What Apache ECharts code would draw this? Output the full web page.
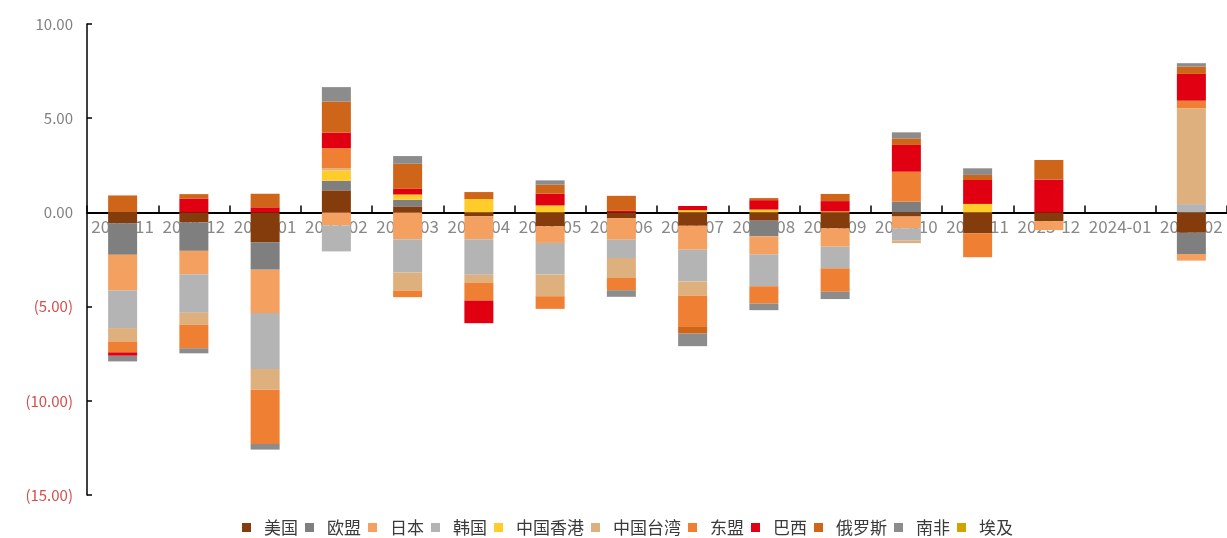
<!DOCTYPE html>
<html>
<head>
<meta charset="utf-8">
<script src="https://cdn.jsdelivr.net/npm/echarts@6/dist/echarts.min.js"></script>
<style>
  html, body { margin: 0; padding: 0; background: #fff; }
  #chart { width: 1227px; height: 538px; }
</style>
</head>
<body>
<div id="chart"></div>
<script>
// Months on the category axis
const categories = ['2022-11', '2022-12', '2023-01', '2023-02', '2023-03', '2023-04', '2023-05', '2023-06',
  '2023-07', '2023-08', '2023-09', '2023-10', '2023-11', '2023-12', '2024-01', '2024-02'];

// Contribution of each partner, one value per month (2024-01 has no data)
const usa    = [-0.57, -0.53, -1.58,  1.17,  0.32, -0.21, -0.74, -0.30, -0.71, -0.44, -0.85, -0.22, -1.11, -0.46, null, -1.08];
const eu     = [-1.68, -1.51, -1.46,  0.51,  0.35,  0,     0,     0,     0,    -0.83,  0,     0.57,  0,     0,    null, -1.13];
const japan  = [-1.89, -1.24, -2.30, -0.69, -1.42, -1.21, -0.88, -1.15, -1.27, -0.97, -0.97, -0.62,  0,    -0.48, null, -0.35];
const korea  = [-2.00, -2.04, -2.97, -1.38, -1.77, -1.89, -1.68, -0.97, -1.68, -1.68, -1.15, -0.65,  0,     0,    null,  0.44];
const hk     = [ 0,     0,     0,     0.55,  0.28,  0.71,  0.37,  0,     0.12,  0.15,  0.05,  0,     0.45,  0,    null,  0];
const tw     = [-0.71, -0.65, -1.10,  0.12, -0.96, -0.41, -1.15, -1.06, -0.76,  0,     0,    -0.14,  0,     0,    null,  5.08];
const asean  = [-0.58, -1.24, -2.88,  1.06, -0.35, -0.96, -0.67, -0.65, -1.66, -0.92, -1.24,  1.59, -1.27,  0,    null,  0.41];
const brazil = [-0.18,  0.74,  0.27,  0.83,  0.30, -1.20,  0.62,  0.08,  0.22,  0.50,  0.55,  1.42,  1.27,  1.75, null,  1.42];
const russia = [ 0.90,  0.23,  0.72,  1.65,  1.33,  0.37,  0.48,  0.80, -0.35,  0.11,  0.38,  0.35,  0.27,  1.03, null,  0.39];
const safr   = [-0.30, -0.27, -0.30,  0.76,  0.41,  0,     0.23, -0.35, -0.67, -0.35, -0.39,  0.32,  0.35,  0,    null,  0.18];
const egypt  = [ 0,     0,     0,     0,     0,     0,     0,     0,     0,     0,     0,     0,     0,     0,    null,  0];

const seriesNames  = ['美国', '欧盟', '日本', '韩国', '中国香港', '中国台湾', '东盟', '巴西', '俄罗斯', '南非', '埃及'];
const seriesData   = [usa, eu, japan, korea, hk, tw, asean, brazil, russia, safr, egypt];
const seriesColors = ['#843C0C', '#7F7F7F', '#F4A060', '#B4B4B4', '#FFCC2A', '#DDB07E',
  '#EE7F33', '#E00012', '#CF6518', '#8C8C8C', '#D0A300'];

// Value axis range and labels
const yMin = -15, yMax = 10, yStep = 5;

// Plot box; both month axes are moved from the grid edges onto the zero line
const gridTop = 24, gridHeight = 471;
const bottomToZero = -gridHeight * (0 - yMin) / (yMax - yMin);
const topToZero = -gridHeight * (yMax - 0) / (yMax - yMin);

const chart = echarts.init(document.getElementById('chart'));

const series = seriesNames.map((name, i) => ({
  name: name,
  type: 'bar',
  stack: 'total',
  barWidth: 29,
  data: seriesData[i],
  itemStyle: { color: seriesColors[i] },
  emphasis: { disabled: true }
}));

const tickStyle = { color: '#000', width: 1.5 };

chart.setOption({
  animation: false,
  backgroundColor: '#fff',
  color: seriesColors,
  grid: { left: 87, top: gridTop, width: 1144, height: gridHeight, containLabel: false },
  legend: {
    left: 237,
    top: 514,
    icon: 'rect',
    itemWidth: 9,
    itemHeight: 9,
    itemGap: 7,
    selectedMode: false,
    formatter: '{n|{name}}',
    textStyle: {
      color: '#3a3a3a',
      fontSize: 17,
      fontFamily: 'Noto Sans CJK SC',
      rich: { n: { fontSize: 17, color: '#3a3a3a', fontFamily: 'Noto Sans CJK SC', padding: [0, 0, 0, 8] } }
    }
  },
  xAxis: [
    {
      // month labels and the zero line
      type: 'category',
      data: categories,
      position: 'bottom',
      offset: bottomToZero,
      axisLine: { show: true, onZero: false, lineStyle: { color: '#000', width: 1.8 } },
      axisTick: { show: false },
      axisLabel: {
        interval: 0,
        margin: 6,
        color: '#888',
        fontSize: 17,
        fontFamily: 'Noto Sans CJK SC'
      },
      splitLine: { show: false }
    },
    {
      // short upward ticks between months, sitting on the zero line
      type: 'category',
      data: categories,
      position: 'top',
      offset: topToZero,
      z: 4,
      axisLine: { show: false, onZero: false },
      axisTick: { show: true, interval: 0, inside: false, length: 7, lineStyle: tickStyle },
      axisLabel: { show: false },
      splitLine: { show: false }
    }
  ],
  yAxis: {
    type: 'value',
    min: yMin,
    max: yMax,
    interval: yStep,
    axisLine: { show: true, lineStyle: { color: '#000', width: 1.5 } },
    axisTick: { show: true, inside: true, length: 5, lineStyle: tickStyle },
    splitLine: { show: false },
    axisLabel: {
      margin: 14,
      fontSize: 15,
      fontFamily: 'Noto Sans CJK SC',
      color: (v) => (Number(v) < 0 ? '#D64B4B' : '#808080'),
      formatter: (v) => (v < 0 ? '(' + Math.abs(v).toFixed(2) + ')' : v.toFixed(2))
    }
  },
  series: series
});
</script>
</body>
</html>
